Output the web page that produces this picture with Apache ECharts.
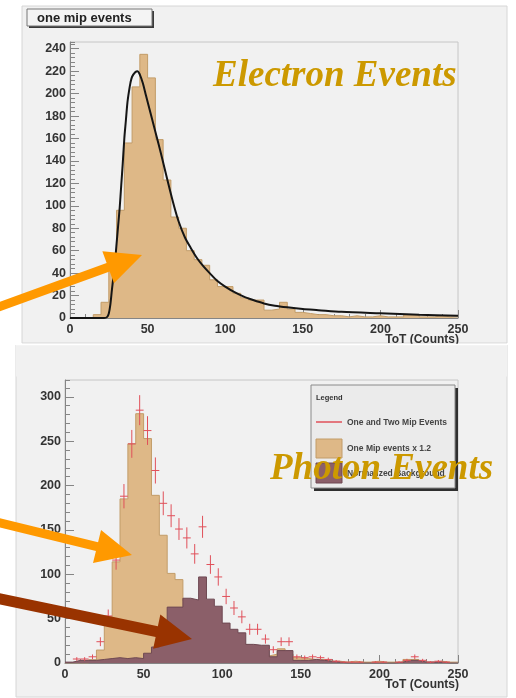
<!DOCTYPE html>
<html>
<head>
<meta charset="utf-8">
<script src="https://cdn.jsdelivr.net/npm/echarts@6/dist/echarts.min.js"></script>
<style>
  html, body { margin: 0; padding: 0; background: #ffffff; }
  #chart { width: 516px; height: 698px; }
</style>
</head>
<body>
<div id="chart"></div>
<script>
// ToT histograms, 5-count bins from 0 to 250
const binLow = [0, 5, 10, 15, 20, 25, 30, 35, 40, 45, 50, 55, 60, 65, 70, 75, 80, 85, 90, 95,
  100, 105, 110, 115, 120, 125, 130, 135, 140, 145, 150, 155, 160, 165, 170, 175, 180, 185, 190, 195,
  200, 205, 210, 215, 220, 225, 230, 235, 240, 245];
const BIN_WIDTH = 5;
const TOT_MAX = 250;

// Upper pad: one mip events
const electronCounts = [0, 0, 0, 3, 14, 45, 96, 156, 206, 235, 214, 159, 123, 90, 80, 60, 52, 47, 34, 28,
  28, 22, 18, 16, 16, 7, 8, 14, 8, 5, 4, 3, 3, 2, 2, 1, 2, 1, 1, 2,
  1, 1, 1, 3, 3, 1, 1, 2, 1, 1];

// Fitted curve over the one mip spectrum (sampled points)
const fitX = [0, 22, 24, 25, 26, 27, 28, 29, 30, 31, 32, 33, 34, 35, 36, 37, 38, 39, 40, 42,
  43.5, 45, 47, 49, 52, 55, 58, 61, 64, 67, 70, 74, 78, 82, 86, 90, 95, 100, 106, 112,
  118, 125, 132, 140, 150, 160, 175, 200, 225, 250];
const fitY = [0, 0, 1, 4, 12, 25, 37, 50, 66, 82, 98, 118, 138, 160, 176, 192, 202, 210, 215, 219,
  220, 217, 209, 198, 182, 166, 150, 133, 116, 100, 86, 72, 62, 53, 46, 40, 33, 28, 23, 19,
  16, 13, 11, 9.5, 8, 7, 5.5, 4.2, 3, 2];

// Lower pad: one mip events x 1.2
const oneMipScaled = [0, 0, 0, 3.6, 14.6, 52, 114, 185, 247, 281, 253, 189, 144, 101, 94, 70, 61, 55, 40, 33,
  33, 26, 21, 19, 19, 8, 10, 16, 10, 6, 5, 4, 4, 2, 2, 1, 2, 1, 1, 2,
  1, 1, 1, 4, 4, 1, 1, 2, 1, 1];
// Lower pad: normalized background
const normBackground = [1, 3, 3, 3, 4, 5, 6, 5, 6, 5, 11, 18, 32, 63, 63, 73, 71, 97, 72, 64,
  45, 38, 34, 21, 20, 20, 7, 14, 14, 3, 3, 4, 3, 2, 1, 0, 0, 0, 0, 0,
  0, 0, 1, 3, 3, 1, 1, 1, 0, 0];
// Lower pad: one and two mip events with errors
const mixedCounts = [0, 4.5, 4.5, 7, 24, 53, 116, 188, 247, 285, 262, 217, 180, 166, 151, 141, 123, 153.5, 111, 97,
  75, 62, 52, 38, 38, 27, 15, 24, 24, 7, 6, 7, 6, 4, 2, 1, 1, 1, 0, 1,
  1, 0, 1, 3, 7, 3, 1, 2, 1, 0];
const mixedErr = [0, 2.1, 2.1, 2.6, 5, 7.3, 10.8, 13.7, 15.7, 16.9, 16.2, 14.7, 13.4, 12.9, 12.3, 11.9, 11.1, 12.4, 10.5, 9.8,
  8.7, 7.9, 7.2, 6.2, 6.2, 5.2, 3.9, 4.9, 4.9, 2.6, 2.4, 2.6, 2.4, 2, 1.4, 1, 1, 1, 0, 1,
  1, 0, 1, 1.7, 2.6, 1.7, 1, 1.4, 1, 0];

// Axis ranges and tick steps
const upperYMax = 246, upperYStep = 20, upperYMinor = 4;
const lowerYMax = 319, lowerYStep = 50, lowerYMinor = 10;
const xStep = 50;

// Text
const upperTitle = 'one mip events';
const lowerTitle = 'One and Two Mips - Normalized Background';
const xName = 'ToT (Counts)';
const legendHeader = 'Legend';
const legendNames = ['One and Two Mip Events', 'One Mip events x 1.2', 'Normalized Background'];
const upperNote = 'Electron Events';
const lowerNote = 'Photon Events';

// Colours
const TAN = '#deb887', TAN_EDGE = '#c29c68';
const MAUVE = '#8b5f69', MAUVE_EDGE = '#6e4852';
const RED = '#e0505a';
const AXIS = '#858585';
const GOLD = '#cc9900';
const ORANGE = '#ff9900', BROWN = '#993300';
const SANS = '"Liberation Sans", Arial, Helvetica, sans-serif';
const SERIF = '"Liberation Serif", "Times New Roman", serif';

function stepData(values) {
  const pts = binLow.map((x, i) => [x, values[i]]);
  pts.push([TOT_MAX, values[values.length - 1]]);
  return pts;
}

function arrowPolygon(tail, tip, shaftW, headL, headW) {
  const dx = tip[0] - tail[0], dy = tip[1] - tail[1];
  const len = Math.hypot(dx, dy);
  const ux = dx / len, uy = dy / len, px = -uy, py = ux;
  const bx = tip[0] - ux * headL, by = tip[1] - uy * headL;
  return [
    [tail[0] + px * shaftW / 2, tail[1] + py * shaftW / 2],
    [bx + px * shaftW / 2, by + py * shaftW / 2],
    [bx + px * headW / 2, by + py * headW / 2],
    tip,
    [bx - px * headW / 2, by - py * headW / 2],
    [bx - px * shaftW / 2, by - py * shaftW / 2],
    [tail[0] - px * shaftW / 2, tail[1] - py * shaftW / 2]
  ];
}

function titleBox(x, y, w, h, text) {
  return {
    type: 'group', z: 20,
    children: [
      { type: 'rect', shape: { x: x + 2, y: y + 2, width: w, height: h }, style: { fill: '#3a3a3a' } },
      { type: 'rect', shape: { x: x, y: y, width: w, height: h }, style: { fill: '#f4f4f4', stroke: '#777', lineWidth: 1 } },
      { type: 'text', style: { text: text, x: x + 10, y: y + h / 2 + 0.5, font: 'bold 13px ' + SANS, fill: '#222', verticalAlign: 'middle' } }
    ]
  };
}

const labelStyle = { fontSize: 12.5, fontWeight: 'bold', color: '#333', fontFamily: SANS };

function majorY(gridIndex, max, step) {
  return {
    type: 'value', gridIndex, min: 0, max, interval: step, position: 'left',
    axisLine: { show: true, lineStyle: { color: AXIS } },
    axisTick: { show: true, inside: true, length: 9, lineStyle: { color: AXIS } },
    axisLabel: Object.assign({ showMaxLabel: false, margin: 4 }, labelStyle),
    splitLine: { show: false }
  };
}
function minorY(gridIndex, max, step) {
  return {
    type: 'value', gridIndex, min: 0, max, interval: step, position: 'left',
    axisLine: { show: false },
    axisTick: { show: true, inside: true, length: 5, lineStyle: { color: AXIS } },
    axisLabel: { show: false },
    splitLine: { show: false }
  };
}
function xAxisFor(gridIndex) {
  return {
    type: 'value', gridIndex, min: 0, max: TOT_MAX, interval: xStep,
    axisLine: { show: true, onZero: false, lineStyle: { color: AXIS } },
    axisTick: { show: true, inside: true, length: 8, lineStyle: { color: AXIS } },
    minorTick: { show: true, splitNumber: 5, length: 4, lineStyle: { color: AXIS } },
    axisLabel: Object.assign({ margin: 5 }, labelStyle),
    splitLine: { show: false },
    name: xName, nameLocation: 'end', nameGap: 1, nameMoveOverlap: false,
    nameTextStyle: { fontSize: 12, fontWeight: 'bold', color: '#333', fontFamily: SANS, align: 'right', verticalAlign: 'top', padding: [16, 0, 0, 0] }
  };
}

const chart = echarts.init(document.getElementById('chart'), null, { renderer: 'canvas' });

const option = {
  animation: false,
  backgroundColor: '#ffffff',
  grid: [
    { left: 70, top: 42, width: 388, height: 276, outerBoundsMode: 'none', containLabel: false, show: true, backgroundColor: '#f1f1f1', borderColor: '#c6c6c6', borderWidth: 1 },
    { left: 65, top: 380, width: 393, height: 283, outerBoundsMode: 'none', containLabel: false, show: true, backgroundColor: '#f1f1f1', borderColor: '#c6c6c6', borderWidth: 1 }
  ],
  xAxis: [xAxisFor(0), xAxisFor(1)],
  yAxis: [
    majorY(0, upperYMax, upperYStep),
    minorY(0, upperYMax, upperYMinor),
    majorY(1, lowerYMax, lowerYStep),
    minorY(1, lowerYMax, lowerYMinor)
  ],
  series: [
    {
      name: upperTitle, type: 'line', xAxisIndex: 0, yAxisIndex: 0, step: 'end',
      data: stepData(electronCounts), symbol: 'none', z: 2,
      lineStyle: { color: TAN_EDGE, width: 1 },
      areaStyle: { color: TAN, opacity: 1 }
    },
    {
      name: 'fit', type: 'line', xAxisIndex: 0, yAxisIndex: 0, smooth: 0.3,
      data: fitX.map((x, i) => [x, fitY[i]]), symbol: 'none', z: 3,
      lineStyle: { color: '#151515', width: 2 }
    },
    {
      name: legendNames[1], type: 'line', xAxisIndex: 1, yAxisIndex: 2, step: 'end',
      data: stepData(oneMipScaled), symbol: 'none', z: 2,
      lineStyle: { color: TAN_EDGE, width: 1 },
      areaStyle: { color: TAN, opacity: 1 }
    },
    {
      name: legendNames[2], type: 'line', xAxisIndex: 1, yAxisIndex: 2, step: 'end',
      data: stepData(normBackground), symbol: 'none', z: 3,
      lineStyle: { color: MAUVE_EDGE, width: 1 },
      areaStyle: { color: MAUVE, opacity: 1 }
    },
    {
      name: legendNames[0], type: 'custom', xAxisIndex: 1, yAxisIndex: 2, z: 4, clip: true,
      encode: { x: 0, y: 1 },
      data: binLow.map((x, i) => [x + BIN_WIDTH / 2, mixedCounts[i], mixedErr[i]]).filter(d => d[1] > 0),
      renderItem: function (params, api) {
        const x = api.value(0), y = api.value(1), e = api.value(2);
        const a = api.coord([x - BIN_WIDTH / 2, y]), b = api.coord([x + BIN_WIDTH / 2, y]);
        const c = api.coord([x, Math.max(0, y - e)]), d = api.coord([x, y + e]);
        const st = { stroke: RED, lineWidth: 1 };
        return {
          type: 'group',
          children: [
            { type: 'line', shape: { x1: a[0], y1: a[1], x2: b[0], y2: b[1] }, style: st },
            { type: 'line', shape: { x1: c[0], y1: c[1], x2: d[0], y2: d[1] }, style: st }
          ]
        };
      }
    }
  ],
  graphic: [
    // pad backgrounds
    { type: 'rect', z: -5, shape: { x: 22, y: 6, width: 485, height: 337 }, style: { fill: '#f1f1f1', stroke: '#d6d6d6', lineWidth: 1 } },
    { type: 'rect', z: -5, shape: { x: 16, y: 345, width: 491, height: 352 }, style: { fill: '#f1f1f1', stroke: '#d6d6d6', lineWidth: 1 } },
    { type: 'rect', z: 5, shape: { x: 16, y: 344.5, width: 491, height: 32 }, style: { fill: '#f1f1f1' } },
    { type: 'line', z: 6, shape: { x1: 16, y1: 344.5, x2: 507, y2: 344.5 }, style: { stroke: '#ffffff', lineWidth: 1.5 } },
    // pad titles
    titleBox(27, 9, 125, 17, upperTitle),
    titleBox(22, 349, 293, 17, lowerTitle),
    // legend box
    {
      type: 'group', z: 30,
      children: [
        { type: 'rect', shape: { x: 314, y: 388, width: 144, height: 103 }, style: { fill: '#2f2f2f' } },
        { type: 'rect', shape: { x: 311, y: 385, width: 144, height: 103 }, style: { fill: '#ebebeb', stroke: '#8a8a8a', lineWidth: 1 } },
        { type: 'text', style: { text: legendHeader, x: 316, y: 398, font: 'bold 7.5px ' + SANS, fill: '#333', verticalAlign: 'middle' } },
        { type: 'line', shape: { x1: 316, y1: 422, x2: 342, y2: 422 }, style: { stroke: RED, lineWidth: 1.5 } },
        { type: 'text', style: { text: legendNames[0], x: 347, y: 422.5, font: 'bold 8.5px ' + SANS, fill: '#444', verticalAlign: 'middle' } },
        { type: 'rect', shape: { x: 316, y: 439, width: 26, height: 19 }, style: { fill: TAN, stroke: TAN_EDGE, lineWidth: 1 } },
        { type: 'text', style: { text: legendNames[1], x: 347, y: 448.5, font: 'bold 8.5px ' + SANS, fill: '#444', verticalAlign: 'middle' } },
        { type: 'rect', shape: { x: 316, y: 463, width: 26, height: 20 }, style: { fill: MAUVE, stroke: MAUVE_EDGE, lineWidth: 1 } },
        { type: 'text', style: { text: legendNames[2], x: 347, y: 473.5, font: 'bold 8.5px ' + SANS, fill: '#444', verticalAlign: 'middle' } }
      ]
    },
    // labels
    { type: 'text', z: 40, style: { text: upperNote, x: 213, y: 76, font: 'italic bold 37px ' + SERIF, fill: GOLD, verticalAlign: 'middle' } },
    { type: 'text', z: 40, style: { text: lowerNote, x: 270, y: 469, font: 'italic bold 37px ' + SERIF, fill: GOLD, verticalAlign: 'middle' } },
    // arrows
    { type: 'polygon', z: 50, shape: { points: arrowPolygon([-4, 308], [142, 255], 9, 36, 34) }, style: { fill: ORANGE } },
    { type: 'polygon', z: 50, shape: { points: arrowPolygon([-4, 522], [132, 555], 9, 36, 34) }, style: { fill: ORANGE } },
    { type: 'polygon', z: 50, shape: { points: arrowPolygon([-4, 598], [192, 639], 11, 36, 35) }, style: { fill: BROWN } }
  ]
};

chart.setOption(option);
</script>
</body>
</html>
